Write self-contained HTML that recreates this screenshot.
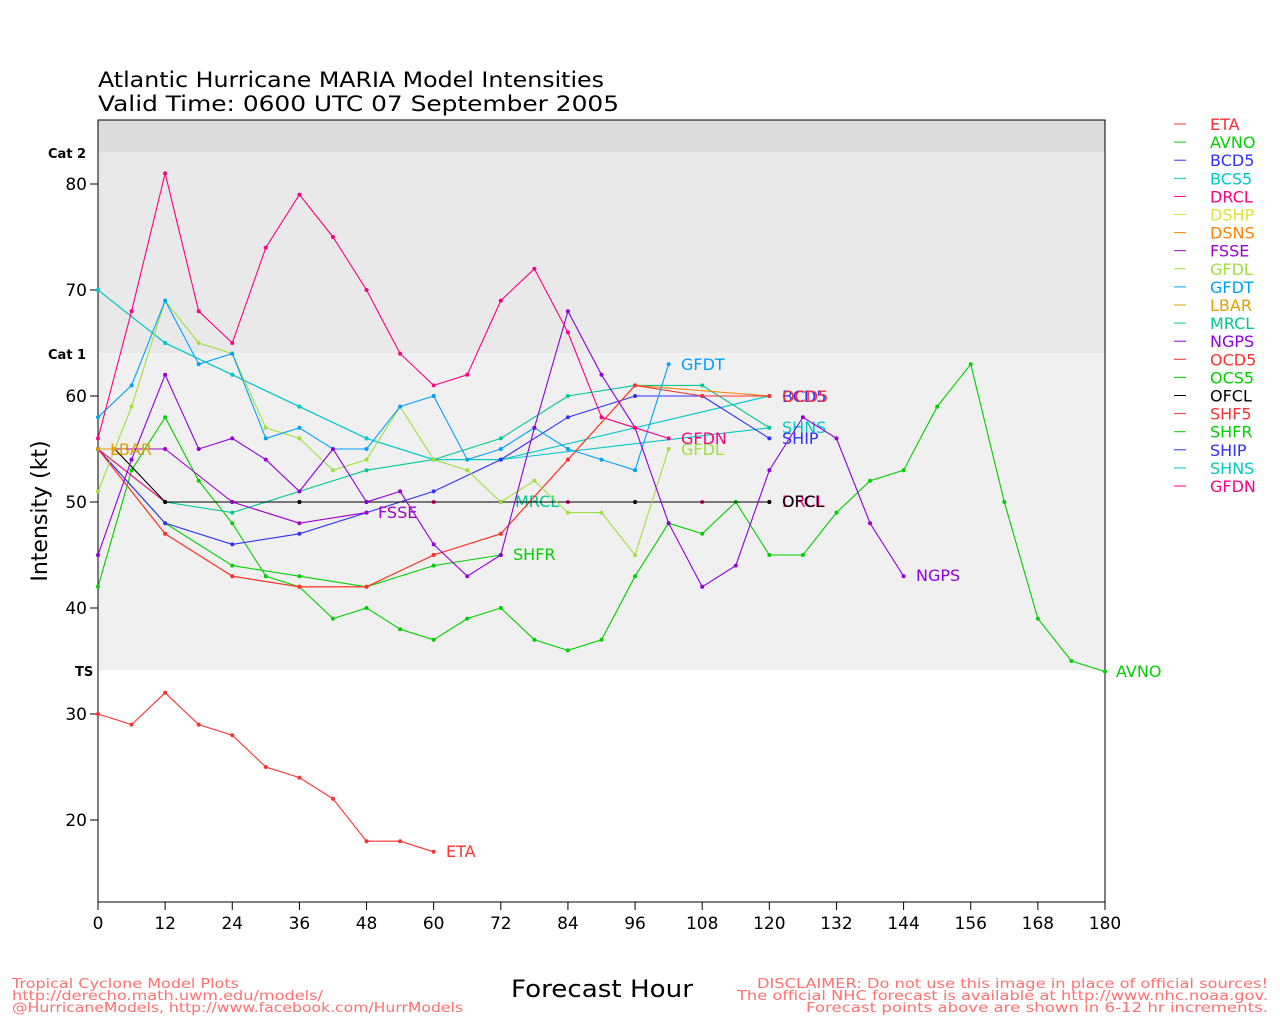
<!DOCTYPE html>
<html><head><meta charset="utf-8"><style>
body{margin:0;background:#fff;width:1280px;height:1024px;overflow:hidden;font-family:"DejaVu Sans","Liberation Sans",sans-serif}
svg text{font-family:"DejaVu Sans","Liberation Sans",sans-serif}
</style></head><body>
<svg id="s" width="1280" height="1024" xmlns="http://www.w3.org/2000/svg">
<rect x="98" y="120" width="1007" height="32" fill="#dcdcdc"/>
<rect x="98" y="152" width="1007" height="201" fill="#e9e9e9"/>
<rect x="98" y="353" width="1007" height="317" fill="#f0f0f0"/>
<rect x="98" y="120" width="1007" height="782" fill="none" stroke="#000" stroke-width="1"/>
<text x="98" y="87" font-size="21" textLength="506" lengthAdjust="spacingAndGlyphs">Atlantic Hurricane MARIA Model Intensities</text>
<text x="98" y="111" font-size="21" textLength="521" lengthAdjust="spacingAndGlyphs">Valid Time: 0600 UTC 07 September 2005</text>
<text x="48" y="158" font-size="13" font-weight="bold">Cat 2</text>
<text x="48" y="359" font-size="13" font-weight="bold">Cat 1</text>
<text x="75" y="676" font-size="13" font-weight="bold">TS</text>
<text transform="translate(47,511) rotate(-90)" text-anchor="middle" font-size="22">Intensity (kt)</text>
<text x="511" y="997" font-size="24" textLength="182" lengthAdjust="spacingAndGlyphs">Forecast Hour</text>
<text x="12" y="988" font-size="13" fill="#ff7070" textLength="227" lengthAdjust="spacingAndGlyphs">Tropical Cyclone Model Plots</text>
<text x="12" y="1000" font-size="13" fill="#ff7070" textLength="311" lengthAdjust="spacingAndGlyphs">http://derecho.math.uwm.edu/models/</text>
<text x="12" y="1012" font-size="13" fill="#ff7070" textLength="451" lengthAdjust="spacingAndGlyphs">@HurricaneModels, http://www.facebook.com/HurrModels</text>
<text x="757" y="988" font-size="13" fill="#ff7070" textLength="511" lengthAdjust="spacingAndGlyphs">DISCLAIMER: Do not use this image in place of official sources!</text>
<text x="737" y="1000" font-size="13" fill="#ff7070" textLength="531" lengthAdjust="spacingAndGlyphs">The official NHC forecast is available at http://www.nhc.noaa.gov.</text>
<text x="806" y="1012" font-size="13" fill="#ff7070" textLength="462" lengthAdjust="spacingAndGlyphs">Forecast points above are shown in 6-12 hr increments.</text>
<g id="g"></g>
</svg>
<script>
var X=function(h){return 98+h*1007/180},Y=function(v){return 184+(80-v)*10.6};
var g=document.getElementById('g'),out='';
for(var h=0;h<=180;h+=12){out+='<line x1="'+X(h)+'" y1="902" x2="'+X(h)+'" y2="910" stroke="#000"/><text x="'+X(h)+'" y="929" font-size="17" text-anchor="middle">'+h+'</text>';}
[20,30,40,50,60,70,80].forEach(function(v){out+='<line x1="90" y1="'+Y(v)+'" x2="98" y2="'+Y(v)+'" stroke="#000"/><text x="87" y="'+(Y(v)+6)+'" font-size="17" text-anchor="end">'+v+'</text>';});
function P(c,pts,lab,lx,ly){var s=[];for(var i=0;i<pts.length;i+=2)s.push(X(pts[i])+','+Y(pts[i+1]));
out+='<polyline points="'+s.join(' ')+'" fill="none" stroke="'+c+'" stroke-width="1.1"/>';
for(var i=0;i<pts.length;i+=2)out+='<circle cx="'+X(pts[i])+'" cy="'+Y(pts[i+1])+'" r="2" fill="'+c+'"/>';
if(lab)out+='<text x="'+lx+'" y="'+ly+'" font-size="16" fill="'+c+'">'+lab+'</text>';}
P('#ff3030',[0,30,6,29,12,32,18,29,24,28,30,25,36,24,42,22,48,18,54,18,60,17],'ETA',446,857);
P('#00d000',[0,42,6,53,12,58,18,52,24,48,30,43,36,42,42,39,48,40,54,38,60,37,66,39,72,40,78,37,84,36,90,37,96,43,102,48,108,47,114,50,120,45,126,45,132,49,138,52,144,53,150,59,156,63,162,50,168,39,174,35,180,34],'AVNO',1116,677);
P('#00d000',[0,55,12,48,24,44,36,43,48,42,60,44,72,45],'SHFR',513,560);
P('#00c8c8',[0,70,12,65,24,62,36,59,48,56,60,54,72,54,120,60]);
P('#00c8c8',[0,70,12,65,24,62,36,59,48,56,60,54,72,54,120,57],'SHNS',782,433);
P('#00c890',[0,55,12,50,24,49,36,51,48,53,60,54,72,56,84,60,96,61,108,61,120,57]);
P('#00c890',[72,50],'MRCL',515,507);
P('#ff8000',[0,55,12,47,24,43,36,42,48,42,60,45,72,47,84,54,96,61,120,60]);
P('#3030ff',[0,55,12,48,24,46,36,47,48,49,60,51,72,54,84,58,96,60,108,60,120,60],'BCD5',782,402);
P('#3030ff',[108,60,120,56],'SHIP',782,444);
P('#ff3030',[0,55,12,47,24,43,36,42,48,42,60,45,72,47,84,54,96,61,108,60,120,60],'OCD5',782,402);
P('#ff0080',[0,55,12,50,24,50,36,50,48,50,60,50,72,50,84,50,96,50,108,50,120,50],'DRCL',782,507);
P('#000000',[0,55,3,55,12,50,24,50,36,50,48,50,72,50,96,50,120,50],'OFCL',782,507);
P('#a0e040',[0,51,6,59,12,69,18,65,24,64,30,57,36,56,42,53,48,54,54,59,60,54,66,53,72,50,78,52,84,49,90,49,96,45,102,55],'GFDL',681,455);
P('#00a0ff',[0,58,6,61,12,69,18,63,24,64,30,56,36,57,42,55,48,55,54,59,60,60,66,54,72,55,78,57,84,55,90,54,96,53,102,63],'GFDT',681,370);
P('#9000e0',[0,45,6,54,12,62,18,55,24,56,30,54,36,51,42,55,48,50,54,51,60,46,66,43,72,45,78,57,84,68,90,62,96,57,102,48,108,42,114,44,120,53,126,58,132,56,138,48,144,43],'NGPS',916,581);
P('#a000d0',[0,55,12,55,24,50,36,48,48,49],'FSSE',378,518);
P('#ff0080',[0,56,6,68,12,81,18,68,24,65,30,74,36,79,42,75,48,70,54,64,60,61,66,62,72,69,78,72,84,66,90,58,96,57,102,56],'GFDN',681,444);
P('#e0a000',[0,55,3,55],'LBAR',110,455);
var L=[['ETA','#ff3030'],['AVNO','#00d000'],['BCD5','#3030ff'],['BCS5','#00c8c8'],['DRCL','#ff0080'],['DSHP','#e0e040'],['DSNS','#ff8000'],['FSSE','#a000d0'],['GFDL','#a0e040'],['GFDT','#00a0ff'],['LBAR','#e0a000'],['MRCL','#00c890'],['NGPS','#9000e0'],['OCD5','#ff3030'],['OCS5','#00d000'],['OFCL','#000000'],['SHF5','#ff3030'],['SHFR','#00d000'],['SHIP','#3030ff'],['SHNS','#00c8c8'],['GFDN','#ff0080']];
L.forEach(function(l,i){var y=124+i*18.1;out+='<line x1="1174" y1="'+y+'" x2="1186" y2="'+y+'" stroke="'+l[1]+'"/><text x="1210" y="'+(y+6)+'" font-size="16" fill="'+l[1]+'">'+l[0]+'</text>';});
g.innerHTML=out;
</script>
</body></html>
